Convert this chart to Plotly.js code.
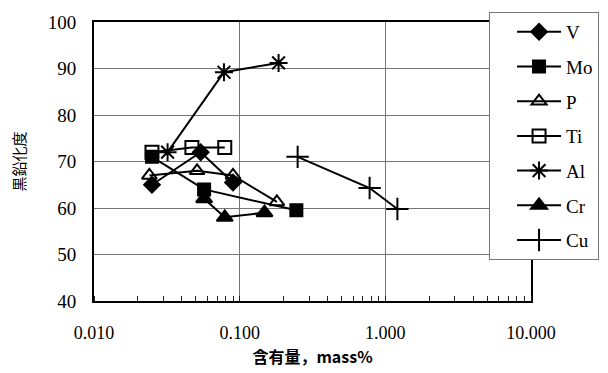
<!DOCTYPE html>
<html>
<head>
<meta charset="utf-8">
<script src="https://cdn.plot.ly/plotly-3.0.1.min.js"></script>
<style>html,body{margin:0;padding:0;background:#fff;}#chart{width:608px;height:373px;}</style>
</head>
<body>
<div id="chart"></div>
<script>
// Data
const seriesNames = ["V", "Mo", "P", "Ti", "Al", "Cr", "Cu"];
const V_x  = [0.025, 0.054, 0.090];
const V_y  = [65, 72, 65.5];
const Mo_x = [0.025, 0.057, 0.245];
const Mo_y = [71, 64, 59.5];
const P_x  = [0.024, 0.051, 0.090, 0.180];
const P_y  = [67, 68, 67, 61.3];
const Ti_x = [0.025, 0.047, 0.079];
const Ti_y = [72, 73, 73];
const Al_x = [0.032, 0.078, 0.185];
const Al_y = [72, 89.2, 91.2];
const Cr_x = [0.057, 0.079, 0.148];
const Cr_y = [62, 58, 59];
const Cu_x = [0.25, 0.78, 1.21];
const Cu_y = [71, 64.3, 59.8];

const xTickVals = [0.01, 0.1, 1, 10];
const xTickText = ["0.010", "0.100", "1.000", "10.000"];
const yTickVals = [40, 50, 60, 70, 80, 90, 100];

const xs = [V_x, Mo_x, P_x, Ti_x, Al_x, Cr_x, Cu_x];
const ys = [V_y, Mo_y, P_y, Ti_y, Al_y, Cr_y, Cu_y];
const symbols = ["diamond", "square", "triangle-up-open", "square-open", "asterisk-open", "triangle-up", "cross-thin-open"];
const sizes = [12, 12, 13, 13, 15, 14, 16];

const traces = seriesNames.map((n, i) => ({
  type: "scatter",
  mode: "lines+markers",
  name: n,
  legendgroup: n,
  x: xs[i],
  y: ys[i],
  line: {color: "#000", width: 2},
  marker: {symbol: symbols[i], size: sizes[i], color: "#000",
           line: {color: "#000", width: 2}},
  cliponaxis: false
}));

const serif = "Liberation Serif, DejaVu Serif, serif";
const layout = {
  width: 608, height: 373,
  margin: {l: 94, r: 77, t: 22, b: 72, autoexpand: false},
  paper_bgcolor: "#fff", plot_bgcolor: "#fff",
  showlegend: true,
  legend: {
    x: 0.904, xanchor: "left", y: 1.036, yanchor: "top",
    bgcolor: "#fff", bordercolor: "#777", borderwidth: 1,
    font: {family: serif, size: 19, color: "#000"},
    traceorder: "grouped", tracegroupgap: 7,
    itemwidth: 44, indentation: 22, maxheight: 360
  },
  xaxis: {
    type: "log",
    range: [-2, 1],
    tickvals: xTickVals, ticktext: xTickText,
    tickfont: {family: serif, size: 18, color: "#000"},
    ticks: "", ticklabelstandoff: 14,
    showgrid: true, gridcolor: "#777", gridwidth: 1,
    showline: true, linecolor: "#000", linewidth: 2, mirror: true,
    zeroline: false,
    minor: {dtick: "D1", ticks: "inside", ticklen: 5, tickcolor: "#222", tickwidth: 1, showgrid: false},
    title: {text: "含有量，mass%", font: {family: "Noto Sans CJK JP, sans-serif", size: 16, color: "#000", weight: "bold"}, standoff: 10}
  },
  yaxis: {
    range: [40, 100],
    tickvals: yTickVals,
    tickfont: {family: serif, size: 19, color: "#000"},
    ticks: "", ticklabelstandoff: 12,
    showgrid: true, gridcolor: "#777", gridwidth: 1,
    showline: true, linecolor: "#000", linewidth: 2, mirror: true,
    zeroline: false,
    title: {text: "黒鉛化度", font: {family: "Noto Sans CJK JP, sans-serif", size: 15, color: "#000"}, standoff: 18}
  }
};

Plotly.newPlot("chart", traces, layout, {displayModeBar: false, staticPlot: true});
</script>
</body>
</html>
